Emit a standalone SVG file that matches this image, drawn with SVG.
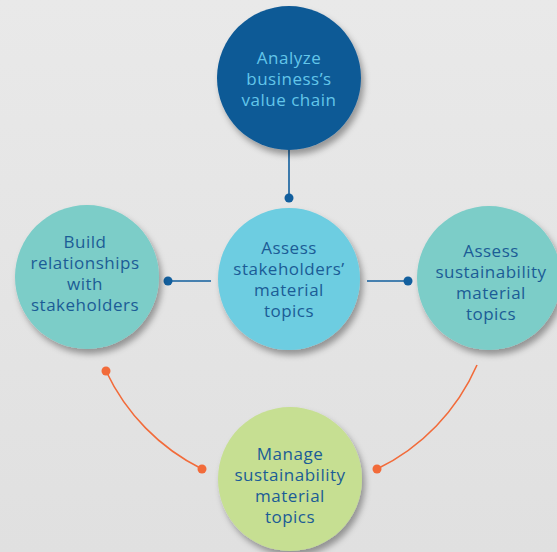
<svg xmlns="http://www.w3.org/2000/svg" width="557" height="552" viewBox="0 0 557 552">
<defs>
<linearGradient id="bg" x1="0" y1="0" x2="0" y2="1">
<stop offset="0" stop-color="#e9e9e9"/>
<stop offset="1" stop-color="#e0e0e0"/>
</linearGradient>
<filter id="sh" x="-20%" y="-20%" width="150%" height="150%">
<feDropShadow dx="3" dy="5" stdDeviation="3" flood-color="#000" flood-opacity="0.35"/>
</filter>
</defs>
<style>
.t{font-family:"Open Sans","Liberation Sans",sans-serif;font-size:17px;text-anchor:middle;font-weight:500;letter-spacing:0.5px}
.dk{fill:#1b5c96}
.lt{fill:#63c6ea}
.bl{stroke:#125f9e;stroke-width:1.6;fill:none}
.bd{fill:#125f9e}
.or{stroke:#f26b3a;stroke-width:1.6;fill:none}
.od{fill:#f26b3a}
</style>
<rect width="557" height="552" fill="url(#bg)"/>
<g id="connectors">
<line class="bl" x1="289" y1="150" x2="289" y2="198"/>
<circle class="bd" cx="289" cy="198" r="4.5"/>
<line class="bl" x1="211" y1="281" x2="168" y2="281"/>
<circle class="bd" cx="168" cy="281" r="4.5"/>
<line class="bl" x1="367" y1="281" x2="408" y2="281"/>
<circle class="bd" cx="408" cy="281" r="4.5"/>
<path class="or" d="M106 371 A208 208 0 0 0 202 469"/>
<circle class="od" cx="106" cy="371" r="4.5"/>
<circle class="od" cx="202" cy="469" r="4.5"/>
<path class="or" d="M477 365 A208 208 0 0 1 377 469"/>
<circle class="od" cx="377" cy="469" r="4.5"/>
</g>
<g id="analyze">
<circle cx="289" cy="78" r="72" fill="#0e5a96" filter="url(#sh)"/>
<text class="t lt" x="289" y="64">Analyze</text>
<text class="t lt" x="289" y="85">business’s</text>
<text class="t lt" x="289" y="106">value chain</text>
</g>
<g id="assess-stakeholders">
<circle cx="289" cy="279" r="71" fill="#6dcde1" filter="url(#sh)"/>
<text class="t dk" x="289" y="254">Assess</text>
<text class="t dk" x="289" y="275">stakeholders’</text>
<text class="t dk" x="289" y="296">material</text>
<text class="t dk" x="289" y="317">topics</text>
</g>
<g id="build">
<circle cx="87" cy="277" r="72" fill="#7bcdc8" filter="url(#sh)"/>
<text class="t dk" x="85" y="248">Build</text>
<text class="t dk" x="85" y="269">relationships</text>
<text class="t dk" x="85" y="290">with</text>
<text class="t dk" x="85" y="311">stakeholders</text>
</g>
<g id="assess-sustainability">
<circle cx="489" cy="278" r="72" fill="#7bcdc8" filter="url(#sh)"/>
<text class="t dk" x="491" y="257">Assess</text>
<text class="t dk" x="491" y="278">sustainability</text>
<text class="t dk" x="491" y="299">material</text>
<text class="t dk" x="491" y="320">topics</text>
</g>
<g id="manage">
<circle cx="290" cy="479" r="72" fill="#c6df92" filter="url(#sh)"/>
<text class="t dk" x="290" y="460">Manage</text>
<text class="t dk" x="290" y="481">sustainability</text>
<text class="t dk" x="290" y="502">material</text>
<text class="t dk" x="290" y="523">topics</text>
</g>
</svg>
